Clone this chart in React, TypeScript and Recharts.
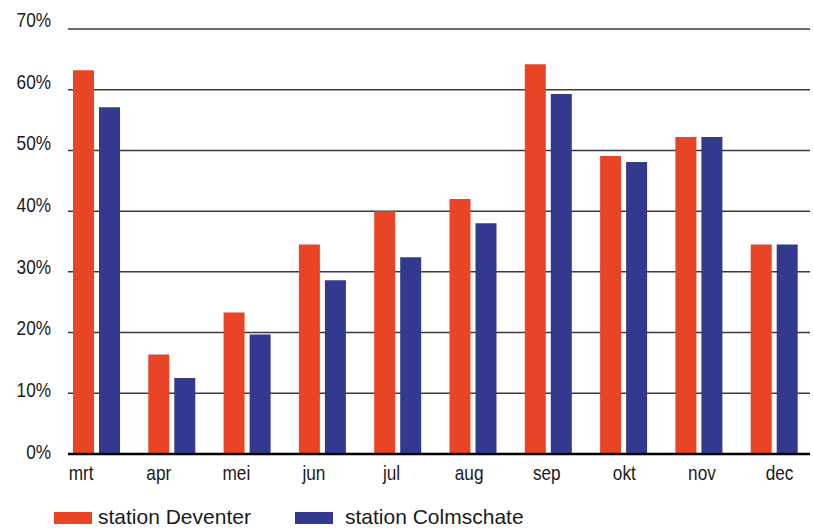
import React from 'react';
import { BarChart, Bar, XAxis, YAxis, CartesianGrid, Legend } from 'recharts';

const months = ['mrt', 'apr', 'mei', 'jun', 'jul', 'aug', 'sep', 'okt', 'nov', 'dec'];
const deventer = [63.2, 16.4, 23.3, 34.5, 40.0, 42.0, 64.2, 49.1, 52.2, 34.5];
const colmschate = [57.1, 12.5, 19.7, 28.6, 32.4, 38.0, 59.3, 48.1, 52.2, 34.5];
const yTicks = [0, 10, 20, 30, 40, 50, 60, 70];
const seriesNames = ['station Deventer', 'station Colmschate'];
const colors = ['#E94425', '#33398E'];

const data = months.map((m, i) => ({ month: m, deventer: deventer[i], colmschate: colmschate[i] }));

const tickFont = "'Liberation Sans', Arial, sans-serif";

const YTick = (props: any) => {
  const { x, y, payload } = props;
  const v = payload.value as number;
  return (
    <g transform={`translate(${x},${y + 4.7 - 0.096 * v}) scale(0.82,1)`}>
      <text x={0} y={0} textAnchor="end" fontFamily={tickFont} fontSize={21} fill="#1a1a1a">
        {v + '%'}
      </text>
    </g>
  );
};

const XTick = (props: any) => {
  const { x, y, payload, index } = props;
  const i = typeof index === 'number' ? index : payload.index ?? 0;
  return (
    <g transform={`translate(${x - 15.5 + 2.3 * i},${y + 26}) scale(0.82,1)`}>
      <text x={0} y={0} textAnchor="middle" fontFamily={tickFont} fontSize={21} fill="#1a1a1a">
        {payload.value}
      </text>
    </g>
  );
};

const LegendContent = () => (
  <svg width={813} height={25} style={{ display: 'block' }}>
    <rect x={54} y={8} width={38} height={12} fill={colors[0]} />
    <text x={98} y={20} fontFamily="'Liberation Sans', Arial, sans-serif" fontSize={21} fill="#1a1a1a">{seriesNames[0]}</text>
    <rect x={295} y={8} width={38} height={12} fill={colors[1]} />
    <text x={345} y={20} fontFamily="'Liberation Sans', Arial, sans-serif" fontSize={21} fill="#1a1a1a">{seriesNames[1]}</text>
  </svg>
);

export default function App() {
  return (
    <div style={{ position: 'absolute', left: 0, top: 0, width: 813, height: 529, background: '#fff' }}>
      <BarChart
        width={813}
        height={529}
        data={data}
        margin={{ top: 29, right: 3, left: 0, bottom: 0 }}
        barSize={21}
        barGap={5}
      >
        <CartesianGrid vertical={false} stroke="#3a3a3a" strokeWidth={1.5} />
        <YAxis
          domain={[0, 70]}
          ticks={yTicks}
          width={68}
          axisLine={false}
          tickLine={false}
          tickSize={0}
          tickMargin={17}
          tick={<YTick />}
          interval={0}
        />
        <Bar dataKey="deventer" name={seriesNames[0]} fill={colors[0]} isAnimationActive={false} />
        <Bar dataKey="colmschate" name={seriesNames[1]} fill={colors[1]} isAnimationActive={false} />
        <XAxis
          dataKey="month"
          height={75}
          padding={{ left: -9, right: -2 }}
          axisLine={{ stroke: '#000', strokeWidth: 2.5 }}
          tickLine={false}
          tickSize={0}
          tickMargin={0}
          tick={<XTick />}
          interval={0}
        />
        <Legend
          layout="horizontal"
          verticalAlign="middle"
          align="center"
          wrapperStyle={{ top: 504, left: 0, width: 813 }}
          content={<LegendContent />}
        />
      </BarChart>
    </div>
  );
}
